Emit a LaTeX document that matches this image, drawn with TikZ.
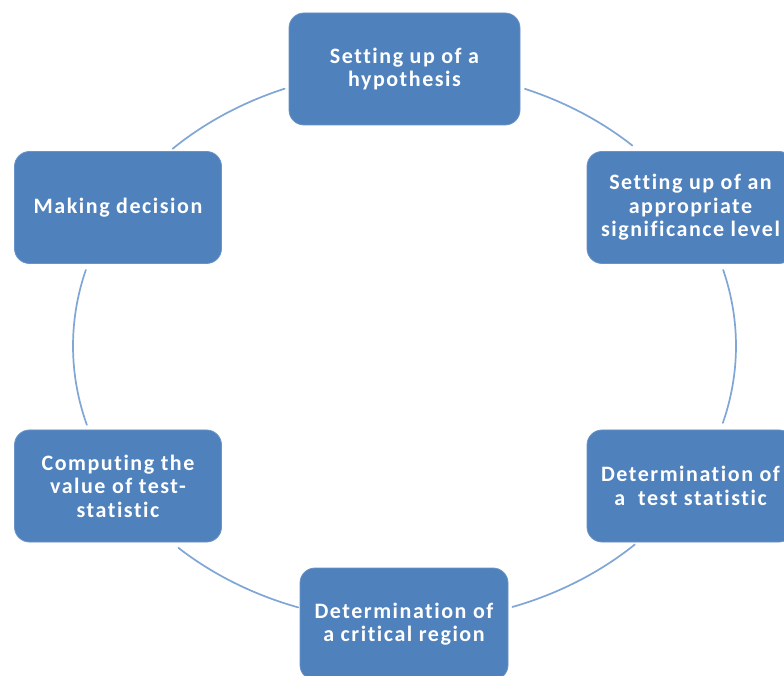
\documentclass[tikz,border=0pt]{standalone}
\usepackage{fontspec}
\newfontfamily\boxfont[LetterSpace=7,Ligatures={NoCommon}]{Carlito}
\definecolor{boxblue}{HTML}{4F81BD}
\definecolor{boxedge}{HTML}{6A93C8}
\definecolor{arcblue}{HTML}{7FA6D6}
\tikzset{
  stepbox/.style={fill=boxblue, draw=boxedge, line width=0.8pt,
    rounded corners=15pt, minimum width=207pt, minimum height=112pt,
    inner sep=0pt, text=white, align=center,
    font=\boxfont\bfseries\fontsize{22}{23.5}\selectfont},
  link/.style={draw=arcblue, line width=1.7pt, line cap=round},
  ell/.style={x radius=331.5pt, y radius=276pt}
}
\begin{document}
\begin{tikzpicture}[x=1pt,y=1pt]
\useasboundingbox (0,0) rectangle (784,675);
\clip (0,0) rectangle (784,675);
\fill[white] (0,0) rectangle (784,675);
% cycle ellipse centre
\coordinate (e) at (404.5,329);
\coordinate (a1) at ([shift={(68.7:331.5pt and 276pt)}]e);
\coordinate (a2) at ([shift={(16:331.5pt and 276pt)}]e);
\coordinate (a3) at ([shift={(-46:331.5pt and 276pt)}]e);
\coordinate (a4) at ([shift={(-108.7:331.5pt and 276pt)}]e);
\coordinate (a5) at ([shift={(-163.4:331.5pt and 276pt)}]e);
\coordinate (a6) at ([shift={(134.4:331.5pt and 276pt)}]e);
\draw[link] (a1) arc[ell, start angle=68.7, end angle=46.6];
\draw[link] (a2) arc[ell, start angle=16, end angle=-16.2];
\draw[link] (a3) arc[ell, start angle=-46, end angle=-71];
\draw[link] (a4) arc[ell, start angle=-108.7, end angle=-133];
\draw[link] (a5) arc[ell, start angle=-163.4, end angle=-196];
\draw[link] (a6) arc[ell, start angle=134.4, end angle=111.2];
% boxes
\node[stepbox, minimum width=231pt] (hyp) at (404.5,606) {Setting up of a\\hypothesis};
\node[stepbox] (sig) at (690.5,467.5) {Setting up of an\\appropriate\\significance level};
\node[stepbox] (tst) at (690.5,189) {Determination of\\a\ \ test statistic};
\node[stepbox, minimum width=208pt] (crit) at (404,51) {Determination of\\a critical region};
\node[stepbox] (comp) at (118,189) {Computing the\\value of test-\\statistic};
\node[stepbox] (dec) at (118,467.5) {Making decision};
\end{tikzpicture}
\end{document}
